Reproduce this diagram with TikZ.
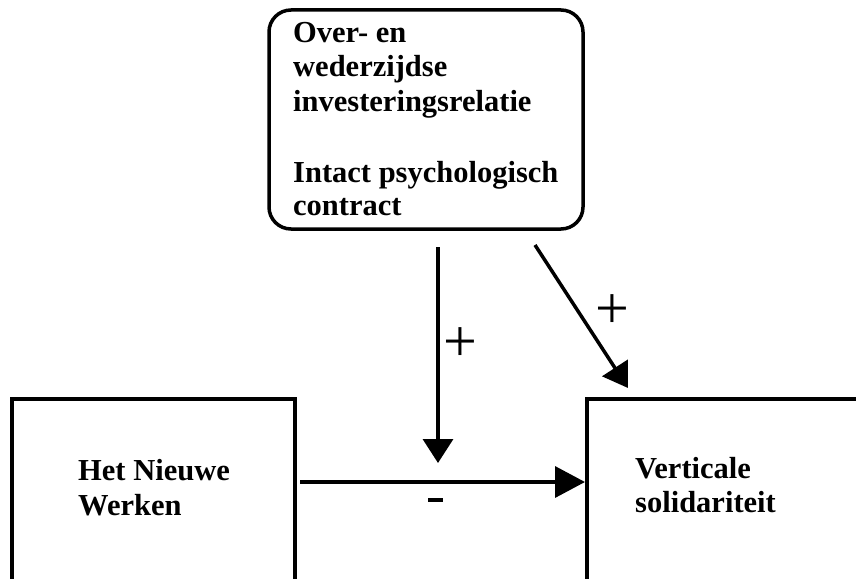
\documentclass[tikz,border=0pt]{standalone}
\usepackage{fontspec}
\setmainfont{Liberation Serif}
\usetikzlibrary{arrows.meta}
\begin{document}
\begin{tikzpicture}[x=1pt,y=-1pt,
  box/.style={draw,line width=3.5pt,inner sep=0pt},
  lbl/.style={anchor=base west,inner sep=0pt,font=\fontsize{30.5}{34}\selectfont\bfseries,align=left},
  sign/.style={inner sep=0pt,font=\fontsize{60}{60}\selectfont},
  conn/.style={line width=3.5pt,-{Triangle[length=24pt,width=30pt]}},
  connlong/.style={line width=3.5pt,-{Triangle[length=30pt,width=31pt]}}]
\useasboundingbox (0,0) rectangle (856,578);
\clip (0,0) rectangle (856,578);
\fill[white] (0,0) rectangle (856,578);
% boxes
\draw[box,rounded corners=22pt] (269,10) rectangle (583,229);
\coordinate (topL) at (438,247);
\coordinate (topR) at (535,245);
\node[box,anchor=north west,minimum width=283pt,minimum height=220pt] (hnw) at (10,397) {};
\node[box,anchor=north west,minimum width=300pt,minimum height=220pt] (vs) at (585,397) {};
% texts
\node[lbl] (t1) at (293,42) {Over- en};
\node[lbl] (t2) at (293,77) {wederzijdse};
\node[lbl] (t3) at (293,111) {investeringsrelatie};
\node[lbl] (t4) at (293,182) {Intact psychologisch};
\node[lbl] (t5) at (293,215) {contract};
\node[lbl] (h1) at (78,480) {Het Nieuwe};
\node[lbl] (h2) at (78,515) {Werken};
\node[lbl] (v1) at (635,478) {Verticale};
\node[lbl] (v2) at (635,512) {solidariteit};
% connectors
\coordinate (hstart) at (300,482);
\coordinate (vend) at (438,463);
\coordinate (dend) at (628,388);
\draw[conn] (topL) -- (vend);
\draw[connlong] (hstart) -- (vs.west |- hstart);
\draw[conn] (topR) -- (dend);
% signs
\node[sign] (p1) at (460,345) {+};
\node[sign] (p2) at (612,312) {+};
\node[inner sep=0pt,minimum width=15pt,minimum height=4.5pt,fill=black] (m) at (435,500) {};
\end{tikzpicture}
\end{document}
